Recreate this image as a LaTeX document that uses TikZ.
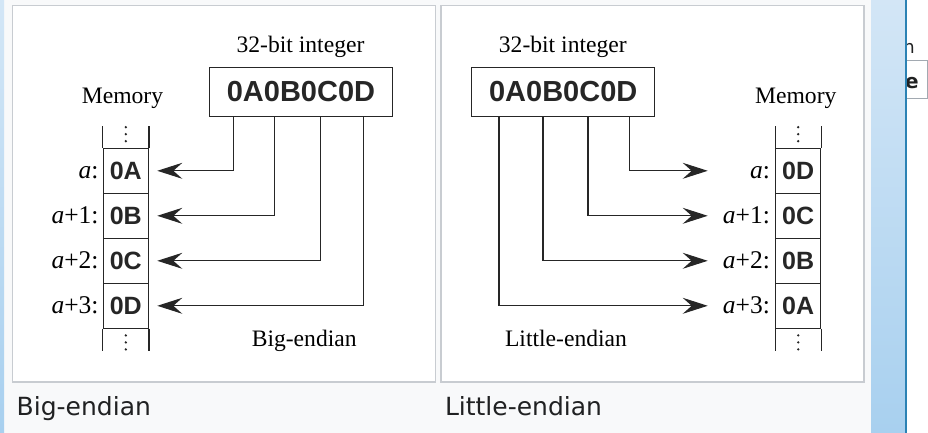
\documentclass[tikz,border=0pt]{standalone}
\usepackage{fontspec}
\setmainfont{Liberation Serif}
\newfontfamily\hexfont{Liberation Sans}
\newfontfamily\capfont{DejaVu Sans}
\usetikzlibrary{arrows.meta,positioning}
\definecolor{pagebg}{HTML}{F8F9FA}
\definecolor{frame}{HTML}{C8CCD1}
\definecolor{captext}{HTML}{202122}
\definecolor{barlight}{HTML}{D3E6F6}
\definecolor{bardark}{HTML}{A8D0EF}
\definecolor{barline}{HTML}{2B82B4}
\definecolor{tabline}{HTML}{A2A9B1}

\begin{document}
\begin{tikzpicture}[x=1pt,y=-1pt,
  ink/.style={black!85,line width=1.2pt},
  word/.style={inner sep=0pt,font=\fontsize{23.6}{26}\selectfont},
  hexbox/.style={draw,ink,line width=1.4pt,minimum width=183pt,minimum height=49pt,inner sep=0pt,font=\hexfont\bfseries\fontsize{29}{32}\selectfont},
  cell/.style={draw,ink,minimum width=45pt,minimum height=45pt,inner sep=0pt,font=\hexfont\bfseries\fontsize{25}{28}\selectfont},
  addr/.style={anchor=base east,inner sep=0pt,font=\fontsize{25.5}{28}\selectfont},
  arrow/.style={ink,-{Stealth[length=25pt,width=16pt,inset=9pt]}},
  caption/.style={anchor=base west,inner sep=0pt,text=captext,font=\capfont\fontsize{25}{28}\selectfont}]
\useasboundingbox (0,0) rectangle (928,433);

% page and the two frames
\fill[pagebg] (0,0) rectangle (928,433);
\shade[top color=barlight,bottom color=bardark] (0,0) rectangle (4,433);
\draw[frame,fill=white,line width=1.2pt] (12.5,5.5) rectangle (435.5,382);
\draw[frame,fill=white,line width=1.2pt] (441,5.5) rectangle (864,382);
\shade[top color=barlight,bottom color=bardark] (871,0) rectangle (905,433);
\fill[barline] (905,0) rectangle (907,433);
\fill[white] (907,0) rectangle (928,433);
\begin{scope}
\clip (907,0) rectangle (928,433);
\draw[tabline,line width=1pt] (900,61) rectangle (927.5,99);
\node[anchor=base east,inner sep=0pt,text=captext,font=\capfont\fontsize{18}{20}\selectfont] (cutn) at (915,53.5) {n};
\node[anchor=base west,inner sep=0pt,text=captext,font=\capfont\bfseries\fontsize{20}{22}\selectfont] (cute) at (905,89) {e};
\end{scope}

% big-endian
\node[word,anchor=base] (bigtitle) at (300.5,53) {32-bit integer};
\node[hexbox] (bigword) at (301,91.8) {0A0B0C0D};
\node[word,anchor=base] (bigmem) at (122.5,103.3) {Memory};
\foreach \i/\b/\l in {0/0A/{\textit{a}:},1/0B/{\textit{a}+1:},2/0C/{\textit{a}+2:},3/0D/{\textit{a}+3:}}{
  \node[cell] (big\i) at (125.8,{170.8+45*\i}) {\b};
  \node[addr] (bigaddr\i) at ([xshift=-4pt,yshift=-7.5pt]big\i.west) {\l};
}
\draw[ink] (big0.north west) -- ++(0,-22);
\draw[ink] (big0.north east) -- ++(0,-22);
\draw[ink] (big3.south west) -- ++(0,22);
\draw[ink] (big3.south east) -- ++(0,22);
\foreach \d in {6.5,13.5,20.5}{
  \fill[black!85] ([yshift=\d pt]big0.north) circle (1.3);
  \fill[black!85] ([yshift=-\d pt]big3.south) circle (1.3);
}
\draw[arrow] ([xshift=25pt]bigword.south west) |- ([xshift=8.4pt]big0.east);
\draw[arrow] ([xshift=66pt]bigword.south west) |- ([xshift=8.4pt]big1.east);
\draw[arrow] ([xshift=112pt]bigword.south west) |- ([xshift=8.4pt]big2.east);
\draw[arrow] ([xshift=155pt]bigword.south west) |- ([xshift=8.4pt]big3.east);
\node[word,anchor=base] (bigname) at (304.2,346) {Big-endian};

% little-endian
\node[word,anchor=base] (littletitle) at (562.8,53) {32-bit integer};
\node[hexbox] (littleword) at (563.2,91.8) {0A0B0C0D};
\node[word,anchor=base] (littlemem) at (795.8,103.3) {Memory};
\foreach \i/\b/\l in {0/0D/{\textit{a}:},1/0C/{\textit{a}+1:},2/0B/{\textit{a}+2:},3/0A/{\textit{a}+3:}}{
  \node[cell] (little\i) at (798.2,{170.8+45*\i}) {\b};
  \node[addr] (littleaddr\i) at ([xshift=-5pt,yshift=-7.5pt]little\i.west) {\l};
}
\draw[ink] (little0.north west) -- ++(0,-22);
\draw[ink] (little0.north east) -- ++(0,-22);
\draw[ink] (little3.south west) -- ++(0,22);
\draw[ink] (little3.south east) -- ++(0,22);
\foreach \d in {6.5,13.5,20.5}{
  \fill[black!85] ([yshift=\d pt]little0.north) circle (1.3);
  \fill[black!85] ([yshift=-\d pt]little3.south) circle (1.3);
}
\draw[arrow] ([xshift=158.7pt]littleword.south west) |- ([xshift=-67.4pt]little0.west);
\draw[arrow] ([xshift=117pt]littleword.south west) |- ([xshift=-67.4pt]little1.west);
\draw[arrow] ([xshift=72pt]littleword.south west) |- ([xshift=-67.4pt]little2.west);
\draw[arrow] ([xshift=28pt]littleword.south west) |- ([xshift=-67.4pt]little3.west);
\node[word,anchor=base] (littlename) at (566,346) {Little-endian};

% captions under the frames
\node[caption] (bigcap) at (16.5,415) {Big-endian};
\node[caption] (littlecap) at (444.8,415) {Little-endian};
\end{tikzpicture}
\end{document}
